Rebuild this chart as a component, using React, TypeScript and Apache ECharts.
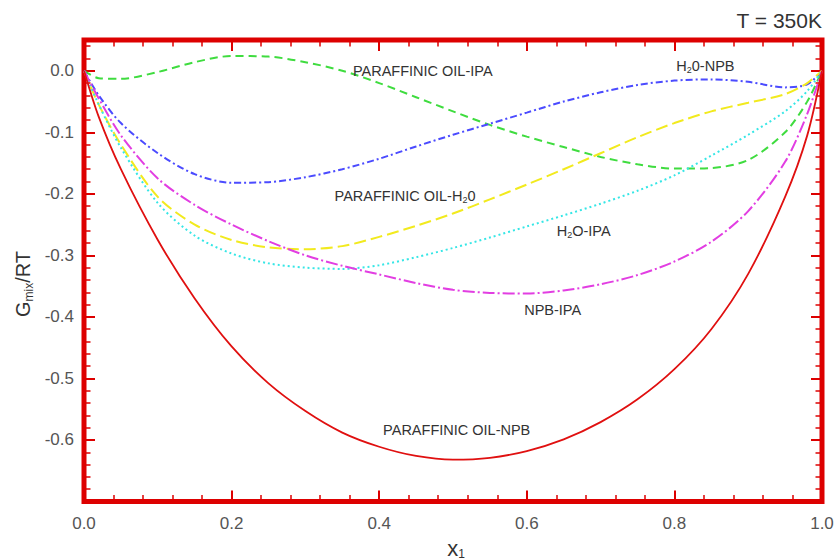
import React, { useEffect, useRef } from "react";
import * as echarts from "echarts";

// mole fraction x1
const X1 = [0, 0.02, 0.05, 0.1, 0.15, 0.2, 0.25, 0.3, 0.35, 0.4, 0.45, 0.5, 0.55, 0.6, 0.65, 0.7, 0.75, 0.8, 0.85, 0.9, 0.95, 0.98, 1.0];

// Gmix/RT series
const OIL_NPB = [0, -0.075, -0.16, -0.275, -0.37, -0.448, -0.508, -0.553, -0.588, -0.611, -0.626, -0.632, -0.629, -0.618, -0.599, -0.571, -0.534, -0.485, -0.42, -0.33, -0.205, -0.105, 0];
const OIL_IPA = [0, -0.012, -0.013, -0.002, 0.014, 0.024, 0.023, 0.014, 0.0, -0.02, -0.043, -0.066, -0.088, -0.107, -0.124, -0.14, -0.152, -0.159, -0.158, -0.145, -0.1, -0.05, 0];
const H2O_NPB = [0, -0.04, -0.085, -0.134, -0.168, -0.182, -0.181, -0.173, -0.16, -0.143, -0.123, -0.104, -0.086, -0.068, -0.05, -0.035, -0.023, -0.016, -0.014, -0.018, -0.027, -0.022, 0];
const OIL_H2O = [0, -0.055, -0.12, -0.205, -0.25, -0.275, -0.287, -0.29, -0.285, -0.27, -0.252, -0.232, -0.209, -0.185, -0.16, -0.134, -0.108, -0.085, -0.066, -0.052, -0.038, -0.02, 0];
const H2O_IPA = [0, -0.055, -0.125, -0.215, -0.268, -0.297, -0.313, -0.32, -0.322, -0.316, -0.303, -0.288, -0.271, -0.253, -0.235, -0.216, -0.195, -0.17, -0.138, -0.104, -0.066, -0.033, 0];
const NPB_IPA = [0, -0.045, -0.105, -0.175, -0.218, -0.25, -0.277, -0.3, -0.317, -0.331, -0.345, -0.356, -0.361, -0.362, -0.357, -0.347, -0.332, -0.31, -0.278, -0.228, -0.148, -0.07, 0];

// curve annotation texts and anchor points (data coords)
const LABEL_OIL_NPB = "{n|PARAFFINIC OIL-NPB}";
const LABEL_OIL_IPA = "{n|PARAFFINIC OIL-IPA}";
const LABEL_H2O_NPB = "{n|H}{s|2}{n|0-NPB}";
const LABEL_OIL_H2O = "{n|PARAFFINIC OIL-H}{s|2}{n|0}";
const LABEL_H2O_IPA = "{n|H}{s|2}{n|O-IPA}";
const LABEL_NPB_IPA = "{n|NPB-IPA}";
const POS_OIL_NPB = [0.505, -0.584];
const POS_OIL_IPA = [0.459, 0.0];
const POS_H2O_NPB = [0.842, 0.008];
const POS_OIL_H2O = [0.435, -0.203];
const POS_H2O_IPA = [0.677, -0.26];
const POS_NPB_IPA = [0.635, -0.388];

// ticks
const X_MAJOR = [0, 0.2, 0.4, 0.6, 0.8, 1.0];
const Y_LABELS = [-0.6, -0.5, -0.4, -0.3, -0.2, -0.1, 0.0];
const Y_MAJOR = [-0.6, -0.5, -0.4, -0.3, -0.2, -0.1, 0.0];
const X_MINOR: number[] = [];
for (let i = 1; i < 25; i++) if (i % 5 !== 0) X_MINOR.push(+(i * 0.04).toFixed(2));
const Y_MINOR: number[] = [];
for (let i = -34; i <= 2; i++) if (i % 5 !== 0) Y_MINOR.push(+(i * 0.02).toFixed(2));

const TITLE_TEXT = "T = 350K";

const FONT = '"Liberation Sans", Arial, Helvetica, sans-serif';
const FRAME = "#dd0000";
const TXT = "#333333";

function pairs(ys: number[]) {
  return X1.map((x, i) => [x, ys[i]]);
}

const rich = {
  n: { fontSize: 14.5, fontFamily: FONT, color: TXT, lineHeight: 18 },
  s: { fontSize: 9, fontFamily: FONT, color: TXT, lineHeight: 9, verticalAlign: "bottom" },
};

function markAt(text: string, coord: number[]) {
  return {
    symbol: "circle",
    symbolSize: 1,
    silent: true,
    itemStyle: { color: "rgba(0,0,0,0)" },
    data: [
      {
        coord,
        label: { show: true, position: "inside", formatter: text, rich },
      },
    ],
  };
}

function lineSeries(name: string, ys: number[], color: string, type: any, width: number, label: string, pos: number[]) {
  return {
    type: "line",
    name,
    data: pairs(ys),
    showSymbol: false,
    smooth: 0.3,
    xAxisIndex: 0,
    yAxisIndex: 0,
    lineStyle: { color, width, type },
    markPoint: markAt(label, pos),
  };
}

export default function App() {
  const ref = useRef<HTMLDivElement>(null);
  useEffect(() => {
    const chart = echarts.init(ref.current!, null, { renderer: "svg" });
    const noLine = { show: false, onZero: false };
    const xBase = { type: "value", min: 0, max: 1, splitLine: { show: false }, axisLine: noLine };
    const yBase = { type: "value", min: -0.7, max: 0.05, splitLine: { show: false }, axisLine: noLine };
    const majorTick = (vals: number[]) => ({ show: true, inside: true, length: 11, lineStyle: { color: FRAME, width: 2 }, customValues: vals });
    const minorTick = (vals: number[]) => ({ show: true, inside: true, length: 6.5, lineStyle: { color: FRAME, width: 1.5 }, customValues: vals });
    const noLabel = { show: false };
    chart.setOption({
      animation: false,
      textStyle: { fontFamily: FONT },
      grid: {
        left: 84,
        right: 15,
        top: 40,
        bottom: 58.5,
        show: true,
        borderColor: FRAME,
        borderWidth: 5,
        backgroundColor: "transparent",
        containLabel: false,
        outerBoundsMode: "none",
      },
      xAxis: [
        {
          ...xBase,
          position: "bottom",
          axisTick: majorTick(X_MAJOR),
          axisLabel: { customValues: X_MAJOR, formatter: (v: number) => v.toFixed(1), fontSize: 17, color: "#555", margin: 13, fontFamily: FONT },
        },
        { ...xBase, position: "bottom", axisTick: minorTick(X_MINOR), axisLabel: noLabel },
        { ...xBase, position: "top", axisTick: majorTick(X_MAJOR), axisLabel: noLabel },
        { ...xBase, position: "top", axisTick: minorTick(X_MINOR), axisLabel: noLabel },
      ],
      yAxis: [
        {
          ...yBase,
          position: "left",
          axisTick: majorTick(Y_MAJOR),
          axisLabel: { customValues: Y_LABELS, formatter: (v: number) => v.toFixed(1), fontSize: 17, color: "#555", margin: 10, fontFamily: FONT },
        },
        { ...yBase, position: "left", axisTick: minorTick(Y_MINOR), axisLabel: noLabel },
        { ...yBase, position: "right", axisTick: majorTick(Y_MAJOR), axisLabel: noLabel },
        { ...yBase, position: "right", axisTick: minorTick(Y_MINOR), axisLabel: noLabel },
      ],
      graphic: [
        {
          type: "text",
          x: 822,
          y: 20,
          style: { text: TITLE_TEXT, fontSize: 21, fontFamily: FONT, fill: TXT, align: "right", verticalAlign: "middle" },
        },
        {
          type: "text",
          x: 23,
          y: 284,
          rotation: Math.PI / 2,
          style: {
            text: "{n|G}{s|mix}{n|/RT}",
            align: "center",
            verticalAlign: "middle",
            rich: {
              n: { fontSize: 20, fontFamily: FONT, fill: TXT, lineHeight: 24 },
              s: { fontSize: 12, fontFamily: FONT, fill: TXT, lineHeight: 12, verticalAlign: "bottom" },
            },
          },
        },
        {
          type: "text",
          x: 456,
          y: 548,
          style: {
            text: "{n|x}{s|1}",
            align: "center",
            verticalAlign: "middle",
            rich: {
              n: { fontSize: 22, fontFamily: FONT, fill: TXT, lineHeight: 24 },
              s: { fontSize: 12, fontFamily: FONT, fill: TXT, lineHeight: 12, verticalAlign: "bottom" },
            },
          },
        },
      ],
      series: [
        lineSeries("PARAFFINIC OIL-IPA", OIL_IPA, "#3fdc3f", [8, 5], 2, LABEL_OIL_IPA, POS_OIL_IPA),
        lineSeries("H2O-NPB", H2O_NPB, "#4b4bff", [7, 3, 2, 3], 2, LABEL_H2O_NPB, POS_H2O_NPB),
        lineSeries("PARAFFINIC OIL-H2O", OIL_H2O, "#f2ea1e", [12, 5], 2, LABEL_OIL_H2O, POS_OIL_H2O),
        lineSeries("H2O-IPA", H2O_IPA, "#35e6e6", [2, 3], 2, LABEL_H2O_IPA, POS_H2O_IPA),
        lineSeries("NPB-IPA", NPB_IPA, "#e23ee2", [12, 3, 2, 3], 2, LABEL_NPB_IPA, POS_NPB_IPA),
        lineSeries("PARAFFINIC OIL-NPB", OIL_NPB, "#e01010", "solid", 1.8, LABEL_OIL_NPB, POS_OIL_NPB),
      ],
    });
    return () => chart.dispose();
  }, []);
  return <div ref={ref} style={{ position: "absolute", left: 0, top: 0, width: 837, height: 560 }} />;
}
